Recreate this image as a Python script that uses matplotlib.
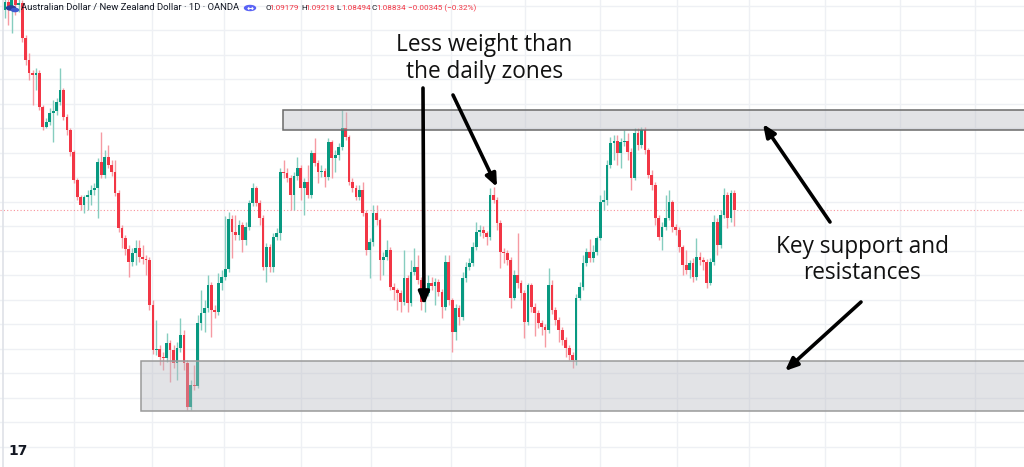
import matplotlib
matplotlib.use('Agg')
import matplotlib.pyplot as plt
import numpy as np
from matplotlib.patches import Rectangle, Circle

# ---------------- data (AUD/NZD daily, OANDA) ----------------
open_first = 1.1283
close = [1.1299, 1.1291, 1.1303, 1.1293, 1.1297, 1.1227, 1.1183, 1.1157, 1.1153, 1.1157,
         1.1089, 1.1049, 1.1059, 1.1077, 1.1081, 1.1099, 1.1123, 1.1069, 1.1043, 1.0999,
         1.0943, 1.0909, 1.0893, 1.0909, 1.0913, 1.0923, 1.0927, 1.0979, 1.0953, 1.0989,
         1.0973, 1.0959, 1.0917, 1.0847, 1.0827, 1.0805, 1.0779, 1.0797, 1.0807, 1.0789,
         1.0785, 1.0783, 1.0693, 1.0603, 1.0605, 1.0589, 1.0587, 1.0617, 1.0603, 1.0577,
         1.0607, 1.0633, 1.0577, 1.0489, 1.0533, 1.0531, 1.0657, 1.0677, 1.0687, 1.0733,
         1.0683, 1.0679, 1.0737, 1.0749, 1.0765, 1.0865, 1.0839, 1.0833, 1.0853, 1.0823,
         1.0849, 1.0897, 1.0927, 1.0897, 1.0867, 1.0769, 1.0809, 1.0769, 1.0829, 1.0837,
         1.0959, 1.0957, 1.0947, 1.0913, 1.0951, 1.0967, 1.0927, 1.0939, 1.0913, 1.0997,
         1.0977, 1.0959, 1.0961, 1.0949, 1.1019, 1.0987, 1.0993, 1.1009, 1.1047, 1.1029,
         1.0939, 1.0927, 1.0909, 1.0923, 1.0877, 1.0803, 1.0819, 1.0877, 1.0863, 1.0783,
         1.0789, 1.0803, 1.0729, 1.0723, 1.0717, 1.0699, 1.0747, 1.0697, 1.0759, 1.0769,
         1.0743, 1.0699, 1.0717, 1.0737, 1.0731, 1.0739, 1.0719, 1.0689, 1.0779, 1.0703,
         1.0639, 1.0687, 1.0669, 1.0747, 1.0769, 1.0777, 1.0809, 1.0839, 1.0843, 1.0837,
         1.0829, 1.0913, 1.0903, 1.0857, 1.0799, 1.0797, 1.0783, 1.0707, 1.0753, 1.0737,
         1.0717, 1.0659, 1.0733, 1.0689, 1.0677, 1.0657, 1.0649, 1.0643, 1.0733, 1.0683,
         1.0663, 1.0643, 1.0623, 1.0607, 1.0593, 1.0583, 1.0707, 1.0729, 1.0777, 1.0799,
         1.0787, 1.0799, 1.0827, 1.0899, 1.0903, 1.0973, 1.1017, 1.1021, 1.0997, 1.1019,
         1.1021, 1.0999, 1.0947, 1.1037, 1.1013, 1.1043, 1.1003, 1.0953, 1.0933, 1.0867,
         1.0829, 1.0849, 1.0867, 1.0899, 1.0849, 1.0843, 1.0809, 1.0773, 1.0763, 1.0777,
         1.0749, 1.0789, 1.0783, 1.0779, 1.0737, 1.0779, 1.0859, 1.0813, 1.0873, 1.0913,
         1.0867, 1.0917, 1.0883]
high = [1.1313, 1.1309, 1.1319, 1.1311, 1.1315, 1.1303, 1.1233, 1.1197, 1.1163, 1.1167,
        1.1163, 1.1093, 1.1067, 1.1087, 1.1103, 1.1107, 1.1167, 1.1127, 1.1075, 1.1047,
        1.1003, 1.0947, 1.0913, 1.0913, 1.0923, 1.0933, 1.0937, 1.0987, 1.1039, 1.1003,
        1.1013, 1.0983, 1.0983, 1.0923, 1.0853, 1.0833, 1.0813, 1.0807, 1.0823, 1.0823,
        1.0813, 1.0793, 1.0789, 1.0703, 1.0663, 1.0613, 1.0599, 1.0637, 1.0623, 1.0613,
        1.0619, 1.0667, 1.0643, 1.0583, 1.0543, 1.0573, 1.0673, 1.0723, 1.0703, 1.0753,
        1.0739, 1.0693, 1.0757, 1.0763, 1.0871, 1.0879, 1.0873, 1.0873, 1.0863, 1.0859,
        1.0859, 1.0903, 1.0937, 1.0931, 1.0903, 1.0873, 1.0817, 1.0815, 1.0837, 1.0847,
        1.0967, 1.0983, 1.0967, 1.0953, 1.0959, 1.0989, 1.0973, 1.0947, 1.0973, 1.1003,
        1.1027, 1.0983, 1.0973, 1.0967, 1.1027, 1.1023, 1.1003, 1.1017, 1.1083, 1.1079,
        1.1033, 1.0947, 1.0933, 1.0933, 1.0939, 1.0883, 1.0827, 1.0893, 1.0893, 1.0867,
        1.0799, 1.0823, 1.0809, 1.0737, 1.0727, 1.0723, 1.0803, 1.0753, 1.0783, 1.0807,
        1.0793, 1.0749, 1.0727, 1.0753, 1.0749, 1.0747, 1.0745, 1.0725, 1.0793, 1.0793,
        1.0707, 1.0695, 1.0693, 1.0759, 1.0779, 1.0787, 1.0819, 1.0859, 1.0853, 1.0851,
        1.0841, 1.0927, 1.0929, 1.0909, 1.0863, 1.0807, 1.0803, 1.0789, 1.0763, 1.0837,
        1.0743, 1.0723, 1.0737, 1.0737, 1.0697, 1.0683, 1.0663, 1.0655, 1.0767, 1.0743,
        1.0689, 1.0669, 1.0649, 1.0629, 1.0613, 1.0599, 1.0715, 1.0739, 1.0793, 1.0807,
        1.0825, 1.0813, 1.0831, 1.0913, 1.0923, 1.0983, 1.1029, 1.1033, 1.1033, 1.1027,
        1.1043, 1.1037, 1.1007, 1.1047, 1.1047, 1.1049, 1.1049, 1.1007, 1.0963, 1.0939,
        1.0873, 1.0859, 1.0913, 1.0923, 1.0903, 1.0855, 1.0849, 1.0813, 1.0803, 1.0783,
        1.0787, 1.0827, 1.0799, 1.0789, 1.0785, 1.0787, 1.0873, 1.0867, 1.0883, 1.0927,
        1.0919, 1.0923, 1.0923]
low = [1.1267, 1.1253, 1.1237, 1.1273, 1.1279, 1.1219, 1.1173, 1.1143, 1.1093, 1.1123,
       1.1083, 1.1043, 1.1047, 1.1053, 1.1019, 1.1073, 1.1093, 1.1063, 1.1033, 1.0991,
       1.0937, 1.0903, 1.0883, 1.0877, 1.0883, 1.0893, 1.0913, 1.0867, 1.0947, 1.0947,
       1.0967, 1.0951, 1.0911, 1.0839, 1.0807, 1.0793, 1.0749, 1.0771, 1.0773, 1.0779,
       1.0775, 1.0753, 1.0683, 1.0595, 1.0593, 1.0573, 1.0563, 1.0579, 1.0539, 1.0567,
       1.0543, 1.0599, 1.0563, 1.0483, 1.0483, 1.0523, 1.0527, 1.0643, 1.0639, 1.0679,
       1.0629, 1.0667, 1.0673, 1.0723, 1.0743, 1.0759, 1.0787, 1.0823, 1.0823, 1.0799,
       1.0813, 1.0843, 1.0891, 1.0891, 1.0853, 1.0763, 1.0739, 1.0759, 1.0759, 1.0823,
       1.0823, 1.0947, 1.0939, 1.0883, 1.0883, 1.0943, 1.0903, 1.0873, 1.0907, 1.0907,
       1.0971, 1.0937, 1.0949, 1.0929, 1.0943, 1.0947, 1.0959, 1.0983, 1.1003, 1.1023,
       1.0933, 1.0919, 1.0903, 1.0903, 1.0871, 1.0793, 1.0747, 1.0811, 1.0853, 1.0743,
       1.0753, 1.0783, 1.0723, 1.0703, 1.0683, 1.0679, 1.0693, 1.0679, 1.0691, 1.0753,
       1.0735, 1.0683, 1.0679, 1.0711, 1.0723, 1.0693, 1.0711, 1.0667, 1.0683, 1.0693,
       1.0599, 1.0623, 1.0653, 1.0663, 1.0739, 1.0763, 1.0771, 1.0803, 1.0831, 1.0827,
       1.0813, 1.0823, 1.0897, 1.0843, 1.0767, 1.0777, 1.0773, 1.0687, 1.0703, 1.0727,
       1.0703, 1.0627, 1.0653, 1.0679, 1.0631, 1.0647, 1.0633, 1.0609, 1.0637, 1.0675,
       1.0653, 1.0619, 1.0613, 1.0589, 1.0583, 1.0567, 1.0573, 1.0703, 1.0723, 1.0771,
       1.0779, 1.0779, 1.0793, 1.0823, 1.0883, 1.0893, 1.0967, 1.0983, 1.0973, 1.0967,
       1.1011, 1.0983, 1.0923, 1.0943, 1.1003, 1.1007, 1.0995, 1.0947, 1.0923, 1.0853,
       1.0823, 1.0803, 1.0843, 1.0863, 1.0839, 1.0833, 1.0799, 1.0753, 1.0755, 1.0747,
       1.0739, 1.0743, 1.0773, 1.0763, 1.0727, 1.0733, 1.0773, 1.0793, 1.0807, 1.0867,
       1.0847, 1.0859, 1.0851]

last_price = 1.08834
resistance_zone = (1.1043, 1.1083)   # key resistance
support_zone = (1.0482, 1.0582)      # key support
resistance_start = 80.8              # bar index where the zone starts
support_start = 39.4
month_starts = [20, 42.7, 63.7, 86, 106.4, 129.7, 151.2, 173, 195.3, 216.3, 238.4, 260.2, 282]

header_title = "Australian Dollar / New Zealand Dollar · 1D · OANDA"
ohlc_labels = ["O", "H", "L", "C"]
ohlc_values = ["1.09179", "1.09218", "1.08494", "1.08834"]
change_text = "\u22120.00345 (\u22120.32%)"

# ---------------- figure ----------------
W, H = 1024, 467
fig = plt.figure(figsize=(W / 100, H / 100), dpi=100)
ax = fig.add_axes([0, 0, 1, 1])
ax.set_xlim(-1.45, 296.2)
ax.set_ylim(1.03694, 1.13034)
ax.axis('off')
fig.patch.set_facecolor('white')

def fp(xp, yp):
    return (xp / W, 1 - yp / H)

grid_c = '#eef0f4'
for v in month_starts:
    ax.axvline(v, color=grid_c, lw=1, zorder=0)
for p in 1.09 + 0.0049 * np.arange(-10, 9):
    ax.axhline(p, color=grid_c, lw=1, zorder=0)

# left border line
fig.add_artist(plt.Line2D([2.5 / W, 2.5 / W], [0, 1], color='#dfe2e8', lw=1.2))

# candles
n = len(close)
x = np.arange(n)
c = np.array(close)
o = np.r_[open_first, c[:-1]]
up = c >= o
body_col = np.where(up, '#089981', '#f23645')
wick_col = np.where(up, '#86cdbf', '#f69aa3')
ax.vlines(x, low, high, colors=wick_col, lw=1, zorder=2)
bottom = np.minimum(o, c)
height = np.maximum(np.abs(c - o), 0.00025)
ax.bar(x, height, bottom=bottom, width=0.8, color=body_col, linewidth=0, zorder=3)

# last price line
ax.axhline(last_price, color='#f23645', lw=0.8, alpha=0.55, ls=(0, (1, 2)), zorder=1)

# zones
ax.add_patch(Rectangle((resistance_start, resistance_zone[0]), 400,
                       resistance_zone[1] - resistance_zone[0],
                       facecolor=(0.72, 0.73, 0.76, 0.40), edgecolor='#6a6a6a', lw=1.1, zorder=4))
ax.add_patch(Rectangle((support_start, support_zone[0]), 400,
                       support_zone[1] - support_zone[0],
                       facecolor=(0.72, 0.73, 0.76, 0.40), edgecolor='#9a9a9a', lw=1.1, zorder=4))

# annotation texts
tfont = dict(family=['Open Sans', 'DejaVu Sans'], fontsize=16.3, color='#111111')
fig.text(*fp(484, 45), "Less weight than", ha='center', va='center', **tfont)
fig.text(*fp(485, 72), "the daily zones", ha='center', va='center', **tfont)
fig.text(*fp(862, 247), "Key support and", ha='center', va='center', **tfont)
fig.text(*fp(862, 273), "resistances", ha='center', va='center', **tfont)

arrows = [((423, 88), (424, 305)),
          ((453, 95), (497, 187)),
          ((830, 222), (763, 124)),
          ((861, 302), (785, 371))]
for (x0, y0), (x1, y1) in arrows:
    ax.annotate('', xy=fp(x1, y1), xytext=fp(x0, y0),
                xycoords='figure fraction', textcoords='figure fraction',
                arrowprops=dict(arrowstyle='-|>,head_length=0.75,head_width=0.32',
                                color='black', lw=2.6, shrinkA=0, shrinkB=0),
                zorder=6)

# header
hfont = dict(family=['Roboto', 'DejaVu Sans'], fontsize=6.8, va='center')
fig.add_artist(Circle(fp(11, 8), 4.5 / W, transform=fig.transFigure, color='#2a3f9c', zorder=7))
fig.add_artist(Circle(fp(15, 10), 3.5 / W, transform=fig.transFigure, color='#3e5bd1', zorder=7))
fig.text(*fp(21, 8), header_title, color='#131722', **hfont)
fig.add_artist(Circle(fp(250, 8), 5.5 / W, transform=fig.transFigure, color='#5962f5', zorder=7))
fig.text(*fp(250, 8), "\u2194", color='white', ha='center', family='DejaVu Sans',
         fontsize=6, fontweight='bold', va='center', zorder=8)

ofont = dict(family=['Roboto', 'DejaVu Sans'], fontsize=5.9, va='center')
label_x = [265, 301, 336.5, 372]
for lab, val, lx in zip(ohlc_labels, ohlc_values, label_x):
    fig.text(*fp(lx, 8), lab, color='#131722', **ofont)
    fig.text(*fp(lx + 4.6, 8), val, color='#f23645', **ofont)
fig.text(*fp(408, 8), change_text, color='#f23645', **ofont)

# TradingView logo
fig.text(*fp(18, 451), "17", ha='center', va='center', family='DejaVu Sans',
         fontsize=10, fontweight='heavy', color='#131722')

fig.savefig('out.png', dpi=100)
